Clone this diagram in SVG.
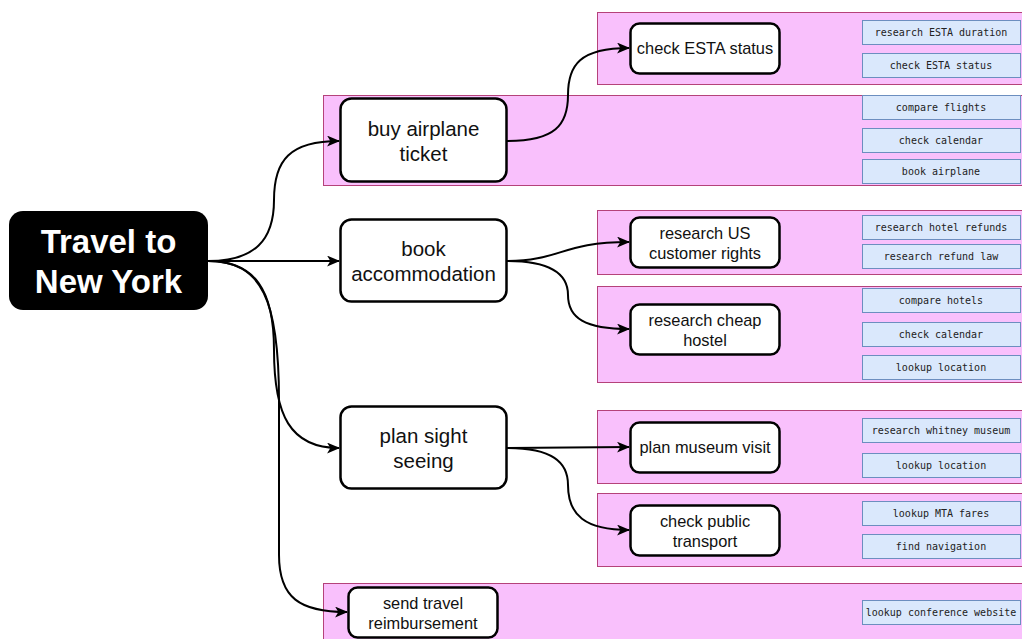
<svg xmlns="http://www.w3.org/2000/svg" width="1022" height="639" viewBox="0 0 1022 639">
<defs>
<marker id="arr" viewBox="0 0 12 10" refX="11" refY="5" markerWidth="13" markerHeight="11" markerUnits="userSpaceOnUse" orient="auto">
<path d="M0,0 L12,5 L0,10 L3,5 z" fill="#000"/>
</marker>
<style>
.grp{fill:#f9c0fc;stroke:#b5427a;stroke-width:1}
.task{fill:#dae8fc;stroke:#6c8ebf;stroke-width:1}
.tt{font-family:"DejaVu Sans Mono",monospace;font-size:10px;fill:#222;text-anchor:middle;dominant-baseline:central}
.node{fill:#fff;stroke:#000;stroke-width:2.5}
.nt{font-family:"Liberation Sans",Arial,sans-serif;font-size:20.5px;fill:#111;text-anchor:middle}
.st{font-family:"Liberation Sans",Arial,sans-serif;font-size:16.4px;fill:#111;text-anchor:middle}
.edge{fill:none;stroke:#000;stroke-width:2;marker-end:url(#arr)}
</style>
</defs>
<rect width="1022" height="639" fill="#fff"/>
<g id="groups">
<rect class="grp" x="597.5" y="12.5" width="440" height="72"/>
<rect class="grp" x="323.5" y="95.5" width="720" height="90"/>
<rect class="grp" x="597.5" y="210.5" width="440" height="64"/>
<rect class="grp" x="597.5" y="286.5" width="440" height="96"/>
<rect class="grp" x="597.5" y="410.5" width="440" height="73"/>
<rect class="grp" x="597.5" y="493.5" width="440" height="73"/>
<rect class="grp" x="323.5" y="583.5" width="720" height="80"/>
</g>
<g id="tasks">
<rect class="task" x="862.5" y="20.5" width="158" height="24"/><text class="tt" x="941" y="32.5">research ESTA duration</text>
<rect class="task" x="862.5" y="53.5" width="158" height="24"/><text class="tt" x="941" y="65.5">check ESTA status</text>
<rect class="task" x="862.5" y="95.5" width="158" height="24"/><text class="tt" x="941" y="107.5">compare flights</text>
<rect class="task" x="862.5" y="128.5" width="158" height="24"/><text class="tt" x="941" y="140.5">check calendar</text>
<rect class="task" x="862.5" y="159.5" width="158" height="24"/><text class="tt" x="941" y="171.5">book airplane</text>
<rect class="task" x="862.5" y="215.5" width="158" height="24"/><text class="tt" x="941" y="227.5">research hotel refunds</text>
<rect class="task" x="862.5" y="244.5" width="158" height="24"/><text class="tt" x="941" y="256.5">research refund law</text>
<rect class="task" x="862.5" y="288.5" width="158" height="24"/><text class="tt" x="941" y="300.5">compare hotels</text>
<rect class="task" x="862.5" y="322.5" width="158" height="24"/><text class="tt" x="941" y="334.5">check calendar</text>
<rect class="task" x="862.5" y="355.5" width="158" height="24"/><text class="tt" x="941" y="367.5">lookup location</text>
<rect class="task" x="862.5" y="418.5" width="158" height="24"/><text class="tt" x="941" y="430.5">research whitney museum</text>
<rect class="task" x="862.5" y="453.5" width="158" height="24"/><text class="tt" x="941" y="465.5">lookup location</text>
<rect class="task" x="862.5" y="501.5" width="158" height="24"/><text class="tt" x="941" y="513.5">lookup MTA fares</text>
<rect class="task" x="862.5" y="534.5" width="158" height="24"/><text class="tt" x="941" y="546.5">find navigation</text>
<rect class="task" x="862.5" y="600.5" width="158" height="24"/><text class="tt" x="941" y="612.5">lookup conference website</text>
</g>
<g id="connectors">
<path class="edge" d="M208 261 C255 261 274 240 274 200 C274 160 290 141 339 141"/>
<path class="edge" d="M208 261 L339 261"/>
<path class="edge" d="M208 261 C255 261 274 290 274 350 C274 415 290 448 339 448"/>
<path class="edge" d="M208 261 C262 261 279 300 279 400 L279 555 C279 598 300 612 347 612"/>
<path class="edge" d="M507 141 C555 141 568 125 568 95 C568 65 580 48 629 48"/>
<path class="edge" d="M507 261 C560 261 562 242 629 242"/>
<path class="edge" d="M507 261 C552 261 568 275 568 295 C568 318 585 329 629 329"/>
<path class="edge" d="M507 448 L629 447"/>
<path class="edge" d="M507 448 C552 448 568 462 568 485 C568 515 585 530 629 530"/>
</g>
<g id="root">
<rect x="9" y="211" width="199" height="99" rx="14" fill="#000"/>
<text x="108.5" y="253" font-family="Liberation Sans, Arial, sans-serif" font-size="33" font-weight="bold" fill="#fff" text-anchor="middle">Travel to</text>
<text x="108.5" y="293" font-family="Liberation Sans, Arial, sans-serif" font-size="33" font-weight="bold" fill="#fff" text-anchor="middle">New York</text>
</g>
<g id="buy-airplane-ticket">
<rect class="node" x="340.5" y="98.5" width="166" height="83" rx="11"/>
<text class="nt" x="423.5" y="136">buy airplane</text>
<text class="nt" x="423.5" y="161">ticket</text>
</g>
<g id="book-accommodation">
<rect class="node" x="340.5" y="219.5" width="166" height="82" rx="11"/>
<text class="nt" x="423.5" y="256">book</text>
<text class="nt" x="423.5" y="281">accommodation</text>
</g>
<g id="plan-sight-seeing">
<rect class="node" x="340.5" y="406.5" width="166" height="82" rx="11"/>
<text class="nt" x="423.5" y="443">plan sight</text>
<text class="nt" x="423.5" y="468">seeing</text>
</g>
<g id="send-travel-reimbursement">
<rect class="node" x="348.5" y="587.5" width="149" height="50" rx="9"/>
<text class="st" x="423" y="609">send travel</text>
<text class="st" x="423" y="629">reimbursement</text>
</g>
<g id="check-esta-status">
<rect class="node" x="630.5" y="23.5" width="149" height="50" rx="9"/>
<text class="st" x="705" y="54">check ESTA status</text>
</g>
<g id="research-us-customer-rights">
<rect class="node" x="630.5" y="217.5" width="149" height="50" rx="9"/>
<text class="st" x="705" y="239">research US</text>
<text class="st" x="705" y="259">customer rights</text>
</g>
<g id="research-cheap-hostel">
<rect class="node" x="630.5" y="304.5" width="149" height="50" rx="9"/>
<text class="st" x="705" y="326">research cheap</text>
<text class="st" x="705" y="346">hostel</text>
</g>
<g id="plan-museum-visit">
<rect class="node" x="630.5" y="422.5" width="149" height="50" rx="9"/>
<text class="st" x="705" y="453">plan museum visit</text>
</g>
<g id="check-public-transport">
<rect class="node" x="630.5" y="505.5" width="149" height="50" rx="9"/>
<text class="st" x="705" y="527">check public</text>
<text class="st" x="705" y="547">transport</text>
</g>
</svg>
